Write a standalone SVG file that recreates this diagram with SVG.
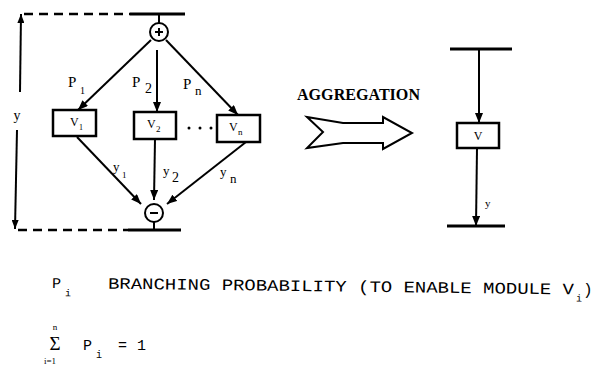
<svg xmlns="http://www.w3.org/2000/svg" width="594" height="369" viewBox="0 0 594 369">
<defs>
<marker id="ah" markerUnits="userSpaceOnUse" markerWidth="10" markerHeight="8" refX="10" refY="4" orient="auto">
<path d="M0,0 L10,4 L0,8 Z" fill="#000"/>
</marker>
<marker id="ahs" markerUnits="userSpaceOnUse" markerWidth="9" markerHeight="7" refX="9" refY="3.5" orient="auto-start-reverse">
<path d="M0,0 L9,3.5 L0,7 Z" fill="#000"/>
</marker>
<style>
.ln{stroke:#000;stroke-width:2;fill:none}
.dash{stroke:#000;stroke-width:2.5;fill:none;stroke-dasharray:9 6}
.bar{stroke:#000;stroke-width:3;fill:none}
.box{stroke:#000;stroke-width:2.5;fill:#fff}
.circ{stroke:#000;stroke-width:2;fill:#fff}
.lbl{font-family:"Liberation Serif",serif;fill:#000}
.mono{font-family:"Liberation Mono",monospace;fill:#000}
</style>
</defs>
<rect width="594" height="369" fill="#fff"/>

<g id="bounds">
<line class="dash" x1="24" y1="14" x2="130" y2="14"/>
<line class="bar" x1="130" y1="14" x2="185" y2="14"/>
<line class="dash" x1="18" y1="230" x2="128" y2="230"/>
<line class="bar" x1="128" y1="230" x2="181" y2="230"/>
</g>

<g id="connectors">
<line class="ln" x1="20" y1="92" x2="21" y2="14" marker-end="url(#ahs)"/>
<line class="ln" x1="17" y1="130" x2="15" y2="229" marker-end="url(#ahs)"/>
<line class="ln" x1="159" y1="14" x2="159" y2="23"/>
<line class="ln" x1="151" y1="40" x2="78" y2="110" marker-end="url(#ah)"/>
<line class="ln" x1="157" y1="50" x2="157" y2="112" marker-end="url(#ah)"/>
<line class="ln" x1="166" y1="40" x2="238" y2="115" marker-end="url(#ah)"/>
<line class="ln" x1="77" y1="137" x2="141" y2="204" marker-end="url(#ah)"/>
<line class="ln" x1="155" y1="139" x2="154" y2="200" marker-end="url(#ah)"/>
<line class="ln" x1="246" y1="142" x2="167" y2="204" marker-end="url(#ah)"/>
<line class="ln" x1="154" y1="222" x2="154" y2="230"/>
<line class="bar" x1="450" y1="49" x2="512" y2="49"/>
<line class="ln" x1="479" y1="49" x2="479" y2="123" marker-end="url(#ah)"/>
<line class="ln" x1="477" y1="148" x2="476" y2="226" marker-end="url(#ah)"/>
<line class="bar" x1="447" y1="226" x2="505" y2="226"/>
</g>

<g id="labels">
<text class="lbl" x="17" y="120" font-size="14" text-anchor="middle">y</text>
<text class="lbl" x="68" y="87" font-size="15">P</text>
<text class="lbl" x="80" y="94" font-size="10">1</text>
<text class="lbl" x="132" y="87" font-size="15">P</text>
<text class="lbl" x="145" y="93" font-size="14">2</text>
<text class="lbl" x="183" y="89" font-size="15">P</text>
<text class="lbl" x="195" y="95" font-size="13">n</text>
<text class="lbl" x="113" y="171" font-size="13">y</text>
<text class="lbl" x="122" y="178" font-size="9">1</text>
<text class="lbl" x="163" y="175" font-size="13">y</text>
<text class="lbl" x="172" y="182" font-size="14">2</text>
<text class="lbl" x="220" y="176" font-size="13">y</text>
<text class="lbl" x="230" y="183" font-size="13">n</text>
<text class="lbl" x="485" y="207" font-size="11">y</text>
</g>

<g id="top-node">
<circle class="circ" cx="159" cy="32" r="9"/>
<line class="ln" x1="155" y1="32" x2="163" y2="32" stroke-width="1.5"/>
<line class="ln" x1="159" y1="28" x2="159" y2="36" stroke-width="1.5"/>
</g>

<g id="bottom-node">
<circle class="circ" cx="154" cy="213" r="9"/>
<line class="ln" x1="150" y1="213" x2="158" y2="213" stroke-width="1.5"/>
</g>

<g id="v1">
<rect class="box" x="53" y="110" width="43" height="26"/>
<text class="lbl" x="70" y="126" font-size="12">V</text>
<text class="lbl" x="79" y="130" font-size="8">1</text>
</g>
<g id="v2">
<rect class="box" x="134" y="112" width="42" height="27"/>
<text class="lbl" x="147" y="128" font-size="12">V</text>
<text class="lbl" x="156" y="132" font-size="9">2</text>
</g>
<g id="vn">
<rect class="box" x="217" y="115" width="43" height="27"/>
<text class="lbl" x="229" y="131" font-size="12">V</text>
<text class="lbl" x="238" y="135" font-size="9">n</text>
</g>
<g id="dots">
<circle cx="189" cy="128" r="1.5" fill="#000"/>
<circle cx="200" cy="128" r="1.5" fill="#000"/>
<circle cx="211" cy="128" r="1.5" fill="#000"/>
</g>

<g id="aggregation">
<text class="lbl" x="297" y="100" font-size="16" font-weight="bold" textLength="123" lengthAdjust="spacingAndGlyphs">AGGREGATION</text>
<polygon points="307,117 343,123 383,123 383,117 412,133 383,149 383,143 343,143 307,148 323,132" fill="#fff" stroke="#000" stroke-width="2" stroke-linejoin="miter"/>
</g>

<g id="v">
<rect class="box" x="457" y="123" width="42" height="25"/>
<text class="lbl" x="478" y="140" font-size="12" text-anchor="middle">V</text>
</g>

<g id="legend">
<g transform="rotate(0.7 52 288)">
<text class="mono" x="52" y="288" font-size="15">P</text>
<text class="mono" x="65" y="296" font-size="10">i</text>
<text class="mono" x="108" y="288" font-size="16" textLength="466" lengthAdjust="spacingAndGlyphs">BRANCHING PROBABILITY (TO ENABLE MODULE V</text>
<text class="mono" x="576" y="295" font-size="10">i</text>
<text class="mono" x="583" y="288" font-size="16">)</text>
</g>
<text class="lbl" x="55" y="330" font-size="9" text-anchor="middle">n</text>
<text class="lbl" x="55" y="350" font-size="19" text-anchor="middle">Σ</text>
<text class="lbl" x="50" y="364" font-size="9" text-anchor="middle">i=1</text>
<text class="mono" x="83" y="350" font-size="15">P</text>
<text class="mono" x="96" y="358" font-size="10">i</text>
<text class="mono" x="118" y="350" font-size="15">=</text>
<text class="mono" x="137" y="350" font-size="15">1</text>
</g>
</svg>
